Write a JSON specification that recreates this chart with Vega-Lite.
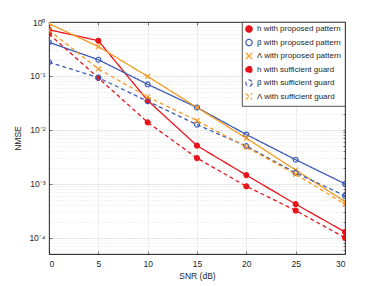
{
  "$schema": "https://vega.github.io/schema/vega-lite/v6.json",
  "width": 296,
  "height": 232,
  "autosize": "none",
  "padding": {"left": 49, "top": 22, "right": 37, "bottom": 32},
  "background": "white",
  "config": {
    "font": "Liberation Sans",
    "view": {"stroke": "#262626", "strokeWidth": 0.8},
    "axis": {"labelFont": "Liberation Sans", "titleFont": "Liberation Sans", "labelColor": "#262626", "titleColor": "#262626", "titleFontWeight": "normal", "labelFontSize": 8.5, "titleFontSize": 8.5, "domainColor": "#262626", "tickColor": "#262626", "domainWidth": 0.8, "tickWidth": 0.6},
    "legend": {"orient": "top-right", "offset": 0, "padding": 3, "strokeColor": "#262626", "strokeWidth": 0.8, "fillColor": "white",
      "symbolSize": 40, "symbolStrokeWidth": 1.2, "labelFontSize": 8, "labelFont": "Liberation Sans", "labelColor": "#262626", "labelLimit": 200, "rowPadding": 1.5}
  },
  "data": {"values": [
    {"snr": 0, "nmse": 0.72, "series": "h with proposed pattern"},
    {"snr": 5, "nmse": 0.45, "series": "h with proposed pattern"},
    {"snr": 10, "nmse": 0.035, "series": "h with proposed pattern"},
    {"snr": 15, "nmse": 0.0051, "series": "h with proposed pattern"},
    {"snr": 20, "nmse": 0.00145, "series": "h with proposed pattern"},
    {"snr": 25, "nmse": 0.00042, "series": "h with proposed pattern"},
    {"snr": 30, "nmse": 0.000128, "series": "h with proposed pattern"},
    {"snr": 0, "nmse": 0.42, "series": "β with proposed pattern"},
    {"snr": 5, "nmse": 0.2, "series": "β with proposed pattern"},
    {"snr": 10, "nmse": 0.07, "series": "β with proposed pattern"},
    {"snr": 15, "nmse": 0.026, "series": "β with proposed pattern"},
    {"snr": 20, "nmse": 0.0082, "series": "β with proposed pattern"},
    {"snr": 25, "nmse": 0.0028, "series": "β with proposed pattern"},
    {"snr": 30, "nmse": 0.001, "series": "β with proposed pattern"},
    {"snr": 0, "nmse": 0.93, "series": "Λ with proposed pattern"},
    {"snr": 5, "nmse": 0.35, "series": "Λ with proposed pattern"},
    {"snr": 10, "nmse": 0.098, "series": "Λ with proposed pattern"},
    {"snr": 15, "nmse": 0.026, "series": "Λ with proposed pattern"},
    {"snr": 20, "nmse": 0.007, "series": "Λ with proposed pattern"},
    {"snr": 25, "nmse": 0.0018, "series": "Λ with proposed pattern"},
    {"snr": 30, "nmse": 0.00047, "series": "Λ with proposed pattern"},
    {"snr": 0, "nmse": 0.6, "series": "h with sufficient guard"},
    {"snr": 5, "nmse": 0.092, "series": "h with sufficient guard"},
    {"snr": 10, "nmse": 0.0138, "series": "h with sufficient guard"},
    {"snr": 15, "nmse": 0.003, "series": "h with sufficient guard"},
    {"snr": 20, "nmse": 0.0009, "series": "h with sufficient guard"},
    {"snr": 25, "nmse": 0.00032, "series": "h with sufficient guard"},
    {"snr": 30, "nmse": 0.0001, "series": "h with sufficient guard"},
    {"snr": 0, "nmse": 0.18, "series": "β with sufficient guard"},
    {"snr": 5, "nmse": 0.093, "series": "β with sufficient guard"},
    {"snr": 10, "nmse": 0.034, "series": "β with sufficient guard"},
    {"snr": 15, "nmse": 0.0125, "series": "β with sufficient guard"},
    {"snr": 20, "nmse": 0.005, "series": "β with sufficient guard"},
    {"snr": 25, "nmse": 0.0016, "series": "β with sufficient guard"},
    {"snr": 30, "nmse": 0.0006, "series": "β with sufficient guard"},
    {"snr": 0, "nmse": 0.7, "series": "Λ with sufficient guard"},
    {"snr": 5, "nmse": 0.135, "series": "Λ with sufficient guard"},
    {"snr": 10, "nmse": 0.041, "series": "Λ with sufficient guard"},
    {"snr": 15, "nmse": 0.0148, "series": "Λ with sufficient guard"},
    {"snr": 20, "nmse": 0.0048, "series": "Λ with sufficient guard"},
    {"snr": 25, "nmse": 0.0015, "series": "Λ with sufficient guard"},
    {"snr": 30, "nmse": 0.00042, "series": "Λ with sufficient guard"}
  ]},
  "layer": [
    {
      "mark": {"type": "line", "strokeWidth": 1.3, "clip": true},
      "encoding": {
        "x": {"field": "snr", "type": "quantitative", "scale": {"domain": [0, 30], "nice": false},
          "axis": {"orient": "bottom", "values": [0, 5, 10, 15, 20, 25, 30], "title": "SNR (dB)", "grid": true, "gridColor": "#e3e3e3", "gridWidth": 0.6, "tickSize": -3, "labelPadding": 8, "titlePadding": 4}},
        "y": {"field": "nmse", "type": "quantitative", "scale": {"type": "log", "domain": [0.00005, 1], "nice": false},
          "axis": {"orient": "left", "values": [0.0001, 0.001, 0.01, 0.1, 1], "title": "NMSE", "grid": true, "gridColor": "#e3e3e3", "gridWidth": 0.6, "tickSize": -3, "labelPadding": 7, "titlePadding": 6,
            "labelExpr": "datum.value >= 0.5 ? '10⁰' : datum.value >= 0.05 ? '10⁻¹' : datum.value >= 0.005 ? '10⁻²' : datum.value >= 0.0005 ? '10⁻³' : '10⁻⁴'"}},
        "stroke": {"field": "series", "type": "nominal", "title": null,
          "scale": {"domain": ["h with proposed pattern", "β with proposed pattern", "Λ with proposed pattern", "h with sufficient guard", "β with sufficient guard", "Λ with sufficient guard"],
            "range": ["#e8141b", "#3d5cb4", "#f59a23", "#e8141b", "#3d5cb4", "#f59a23"]},
          "legend": {"title": null, "symbolSize": 40, "rowPadding": 1.5, "labelFontSize": 8, "padding": 3}},
        "strokeDash": {"field": "series", "type": "nominal", "title": null, "legend": null,
          "scale": {"domain": ["h with proposed pattern", "β with proposed pattern", "Λ with proposed pattern", "h with sufficient guard", "β with sufficient guard", "Λ with sufficient guard"],
            "range": [[1, 0], [1, 0], [1, 0], [4, 3], [4, 3], [4, 3]]}}
      }
    },
    {
      "mark": {"type": "point", "size": 24, "strokeWidth": 1.2, "opacity": 1, "clip": true},
      "encoding": {
        "x": {"field": "snr", "type": "quantitative",
          "axis": {"orient": "top", "values": [0, 5, 10, 15, 20, 25, 30], "title": null, "labels": false, "grid": false, "tickSize": -3}},
        "y": {"field": "nmse", "type": "quantitative",
          "axis": {"orient": "right", "values": [0.00006, 0.00007, 0.00008, 0.00009, 0.0001, 0.0002, 0.0003, 0.0004, 0.0005, 0.0006, 0.0007, 0.0008, 0.0009, 0.001, 0.002, 0.003, 0.004, 0.005, 0.006, 0.007, 0.008, 0.009, 0.01, 0.02, 0.03, 0.04, 0.05, 0.06, 0.07, 0.08, 0.09, 0.1, 0.2, 0.3, 0.4, 0.5, 0.6, 0.7, 0.8, 0.9, 1],
            "title": null, "labels": false, "grid": true, "gridColor": "#d4d4d4", "gridDash": [1, 2], "gridWidth": 0.6, "tickSize": -2}},
        "stroke": {"field": "series", "type": "nominal", "title": null,
          "legend": {"title": null, "symbolSize": 40, "rowPadding": 1.5, "labelFontSize": 8, "padding": 3}},
        "fill": {"field": "series", "type": "nominal", "title": null,
          "scale": {"domain": ["h with proposed pattern", "β with proposed pattern", "Λ with proposed pattern", "h with sufficient guard", "β with sufficient guard", "Λ with sufficient guard"],
            "range": ["#e8141b", "transparent", "#f59a23", "#e8141b", "transparent", "#f59a23"]}},
        "shape": {"field": "series", "type": "nominal", "title": null, "legend": null,
          "scale": {"domain": ["h with proposed pattern", "β with proposed pattern", "Λ with proposed pattern", "h with sufficient guard", "β with sufficient guard", "Λ with sufficient guard"],
            "range": ["circle", "circle", "M-1,-1L1,1M-1,1L1,-1", "circle", "circle", "M-1,-1L1,1M-1,1L1,-1"]}}
      }
    }
  ]
}
